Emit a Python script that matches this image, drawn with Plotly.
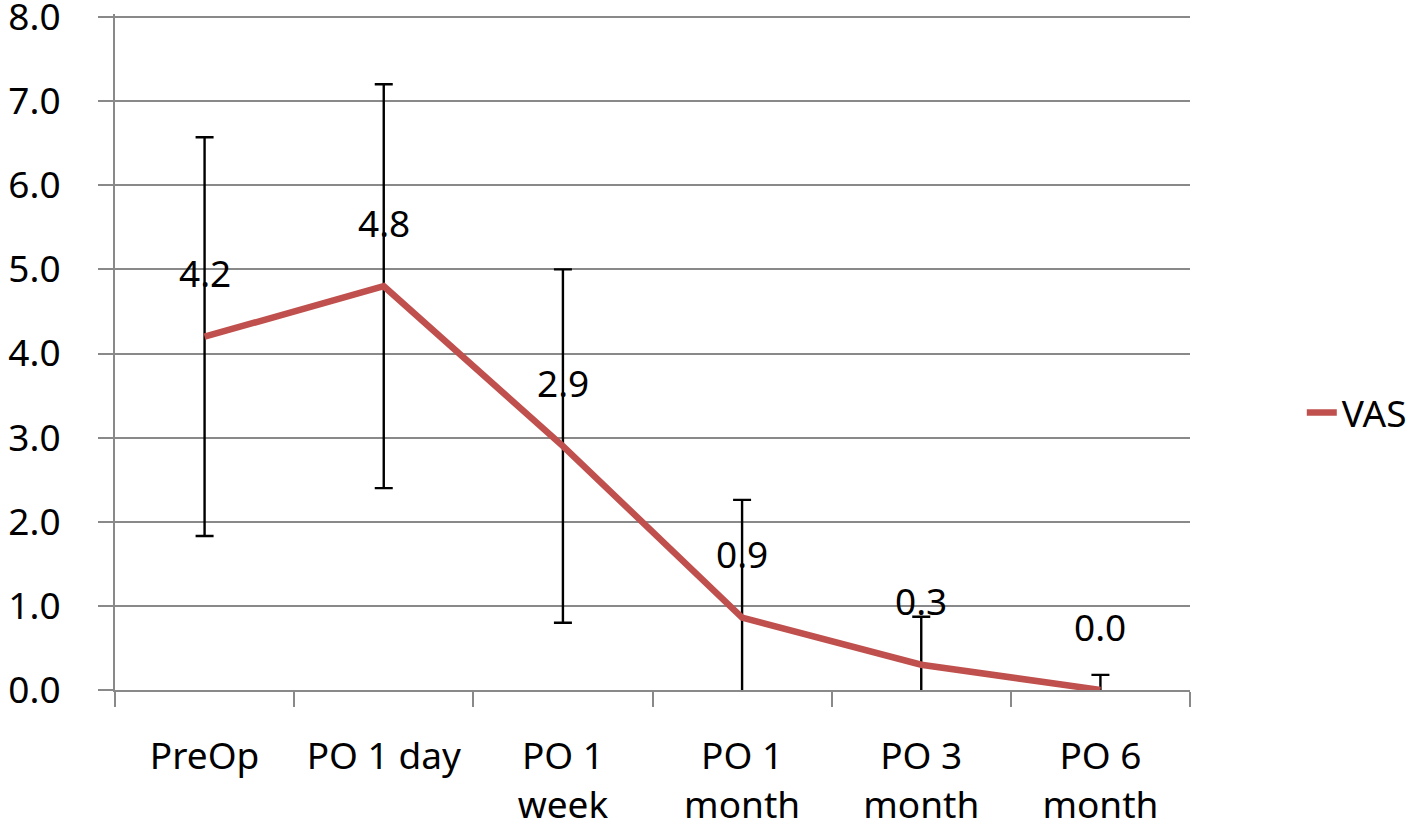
import plotly.graph_objects as go

categories = ["PreOp", "PO 1 day", "PO 1<br>week", "PO 1<br>month", "PO 3<br>month", "PO 6<br>month"]
vas_mean = [4.2, 4.8, 2.9, 0.86, 0.3, 0.0]
vas_err = [2.37, 2.4, 2.1, 1.4, 0.57, 0.18]
y_ticks = [0, 1, 2, 3, 4, 5, 6, 7, 8]

FONT = "Noto Sans"
GRID = "#898989"
FS = 37

fig = go.Figure()
fig.add_trace(go.Scatter(
    x=categories, y=vas_mean, mode="lines", name="VAS",
    line=dict(color="#C0504D", width=6.5),
    error_y=dict(type="data", array=vas_err, symmetric=True,
                 color="black", thickness=2.4, width=9),
))

for c, v in zip(categories, vas_mean):
    fig.add_annotation(x=c, y=v, text=f"{v:.1f}", showarrow=False,
                       yshift=64, font=dict(family=FONT, size=FS, color="black"))

fig.update_layout(
    width=1418, height=824,
    paper_bgcolor="white", plot_bgcolor="white",
    margin=dict(l=115, r=228, t=14, b=134, autoexpand=False),
    font=dict(family=FONT, size=FS, color="black"),
    showlegend=True,
    legend=dict(x=1.104, y=0.41, xanchor="left", yanchor="middle",
                font=dict(family=FONT, size=FS, color="black"),
                bgcolor="rgba(0,0,0,0)"),
)
fig.update_xaxes(
    type="category", range=[-0.5, len(categories) - 0.5],
    tickson="boundaries", ticks="outside", ticklen=15,
    tickwidth=2, tickcolor=GRID, showline=True, linecolor=GRID, linewidth=2,
    showgrid=False, ticklabelstandoff=33, automargin=False,
    tickfont=dict(family=FONT, size=FS, color="black"),
)
fig.update_yaxes(
    range=[0, 8.0357], tickvals=y_ticks, tickformat=".1f", ticks="outside",
    ticklen=15, tickwidth=2, tickcolor=GRID, showline=True, linecolor=GRID,
    linewidth=2, showgrid=True, gridcolor=GRID, gridwidth=2, zeroline=False,
    ticklabelstandoff=30, automargin=False, ticklabeloverflow="allow",
    tickfont=dict(family=FONT, size=FS, color="black"),
)

fig.write_html("out.html", config={"displayModeBar": False},
               post_script="document.body.style.margin='0';")
